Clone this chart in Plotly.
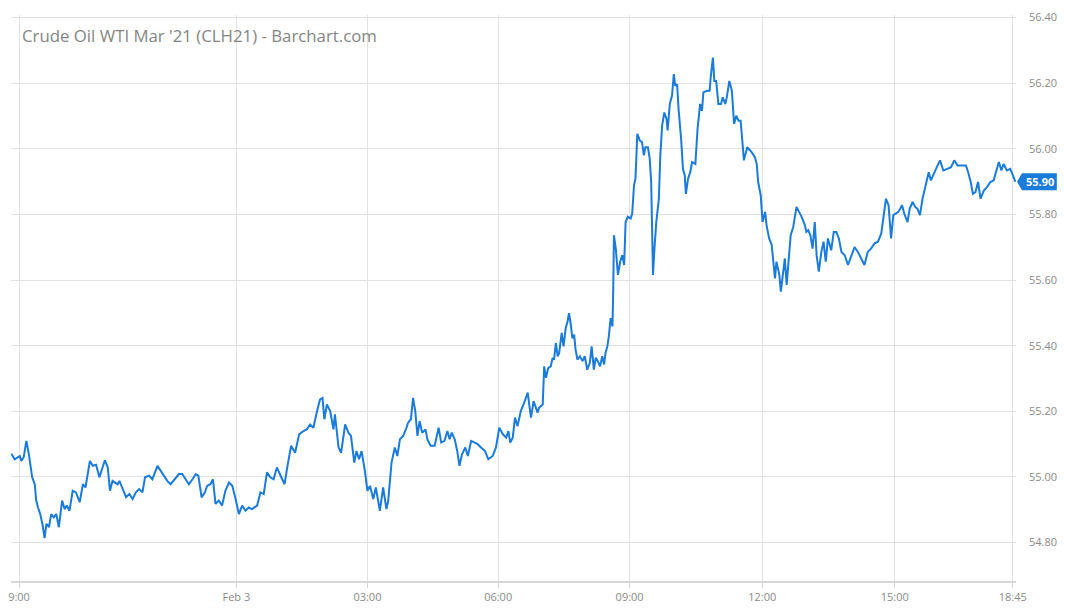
import plotly.graph_objects as go

# 5-minute bar index (session position) and last price
bar_index = [
    -2.1, -1.2, 0.2, 0.6, 1.3, 2.0, 2.7, 3.6, 4.3, 4.7, 5.2, 5.8, 6.4, 7.0, 7.5, 8.2, 8.8, 9.5,
    10.2, 10.9, 11.8, 12.5, 13.1, 13.8, 14.7, 15.6, 16.6, 17.5, 18.2, 18.8, 19.4, 20.2, 21.1,
    22.0, 22.7, 23.5, 24.3, 24.9, 25.6, 27.0, 27.5, 28.4, 29.3, 30.2, 31.1, 32.0, 32.9, 33.8,
    34.5, 35.6, 36.5, 37.9, 38.8, 39.7, 40.6, 41.5, 42.5, 43.8, 44.7, 45.6, 46.5, 47.5, 48.4,
    49.1, 50.0, 50.9, 51.5, 52.4, 53.1, 53.8, 54.7, 55.6, 56.5, 57.5, 58.4, 59.3, 60.2, 61.1,
    62.0, 62.9, 63.8, 65.2, 66.1, 67.0, 67.9, 68.8, 69.7, 70.6, 71.5, 72.7, 73.6, 74.5, 75.6,
    76.7, 77.9, 78.8, 79.7, 80.6, 81.5, 82.4, 83.1, 83.6, 84.3, 85.2, 86.1, 86.5, 87.5, 88.2,
    89.3, 90.2, 90.9, 91.8, 92.4, 93.1, 93.8, 94.7, 95.4, 96.1, 97.0, 97.7, 98.4, 98.8, 99.7,
    100.6, 101.1, 102.0, 102.9, 103.6, 104.3, 105.2, 106.1, 106.5, 107.3, 107.9, 108.5, 109.1,
    109.7, 110.4, 111.3, 111.8, 112.7, 113.8, 114.9, 115.6, 116.5, 117.3, 117.9, 118.5, 119.3,
    120.0, 120.6, 121.3, 122.2, 122.9, 123.8, 124.7, 125.6, 126.5, 127.6, 128.5, 129.7, 130.6,
    131.5, 132.5, 133.4, 134.0, 134.5, 135.2, 135.8, 136.5, 137.4, 138.3, 139.3, 139.7, 140.2,
    140.9, 141.5, 142.0, 142.4, 143.4, 143.8, 144.3, 144.9, 145.6, 146.1, 146.5, 147.0, 147.5,
    147.9, 148.6, 149.1, 149.7, 150.2, 150.6, 151.1, 151.5, 152.0, 152.4, 152.9, 153.6, 154.3,
    154.9, 155.6, 156.3, 156.8, 157.4, 157.9, 158.5, 159.1, 159.7, 160.2, 160.6, 161.1, 161.5,
    162.0, 162.5, 162.7, 162.9, 163.4, 164.0, 164.6, 165.2, 165.7, 166.1, 166.7, 167.5, 167.9,
    168.4, 168.8, 169.3, 170.0, 170.6, 171.1, 171.5, 172.2, 172.7, 173.1, 173.4, 173.6, 174.0,
    174.5, 175.2, 175.6, 176.1, 176.7, 177.3, 177.6, 178.2, 178.8, 179.3, 179.7, 180.2, 180.6,
    181.3, 181.8, 182.3, 182.6, 183.2, 183.8, 184.3, 185.2, 185.8, 186.5, 187.0, 187.4, 188.4,
    189.1, 189.4, 190.0, 190.4, 190.9, 191.5, 192.2, 192.7, 193.4, 193.8, 194.5, 195.2, 195.8,
    196.4, 197.0, 197.6, 198.5, 199.4, 200.6, 201.5, 202.0, 202.4, 203.1, 203.6, 204.3, 204.7,
    205.4, 206.1, 206.5, 207.0, 207.4, 208.2, 208.6, 209.1, 209.7, 210.2, 210.9, 211.3, 212.0,
    212.4, 212.9, 213.6, 214.3, 215.2, 215.6, 216.1, 216.7, 217.3, 217.9, 218.4, 219.0, 219.7,
    220.3, 220.9, 221.5, 222.4, 223.1, 223.8, 224.5, 225.2, 226.1, 227.0, 227.9, 228.8, 229.7,
    230.6, 231.5, 232.4, 233.3, 234.3, 235.2, 236.1, 236.7, 237.4, 238.1, 238.8, 239.4, 240.1,
    240.8, 241.8, 242.4, 243.3, 243.9, 244.7, 245.4, 246.0, 246.7, 247.4, 248.3, 249.1, 249.7,
    250.6, 251.5, 252.2, 253.1, 254.2, 255.2, 256.1, 257.0, 258.2, 259.3, 259.9, 260.6, 261.2,
    261.9, 262.6, 263.3, 264.2, 265.1, 266.0, 266.9, 267.5, 268.3, 269.0, 269.6, 270.5, 271.4,
    272.0, 272.8,
]

price = [
    55.071, 55.054, 55.064, 55.049, 55.061, 55.110, 55.069, 54.999, 54.978, 54.928, 54.907,
    54.887, 54.857, 54.814, 54.857, 54.847, 54.887, 54.877, 54.887, 54.847, 54.928, 54.902,
    54.913, 54.897, 54.958, 54.953, 54.923, 54.978, 54.968, 55.009, 55.049, 55.034, 55.037,
    54.999, 55.024, 55.051, 55.029, 54.958, 54.988, 54.978, 54.988, 54.963, 54.938, 54.948,
    54.933, 54.953, 54.963, 54.953, 54.999, 55.004, 54.993, 55.034, 55.019, 55.004, 54.988,
    54.978, 54.993, 55.009, 55.009, 54.993, 54.978, 54.993, 55.009, 55.004, 54.938, 54.953,
    54.973, 54.978, 54.993, 54.918, 54.928, 54.913, 54.958, 54.983, 54.973, 54.933, 54.887,
    54.913, 54.897, 54.907, 54.902, 54.913, 54.953, 54.948, 55.014, 54.999, 54.993, 55.029,
    55.009, 54.978, 55.039, 55.095, 55.074, 55.130, 55.140, 55.145, 55.160, 55.150, 55.196,
    55.236, 55.241, 55.176, 55.221, 55.201, 55.145, 55.191, 55.090, 55.074, 55.160, 55.135,
    55.125, 55.044, 55.079, 55.054, 55.079, 55.019, 54.958, 54.973, 54.933, 54.968, 54.923,
    54.897, 54.968, 54.902, 54.928, 55.044, 55.090, 55.064, 55.115, 55.125, 55.150, 55.165,
    55.176, 55.241, 55.201, 55.125, 55.170, 55.135, 55.145, 55.115, 55.095, 55.095, 55.150,
    55.105, 55.110, 55.140, 55.115, 55.135, 55.115, 55.079, 55.034, 55.069, 55.090, 55.064,
    55.110, 55.105, 55.100, 55.090, 55.079, 55.054, 55.064, 55.090, 55.150, 55.130, 55.120,
    55.140, 55.105, 55.120, 55.181, 55.155, 55.201, 55.226, 55.257, 55.221, 55.181, 55.231,
    55.211, 55.196, 55.211, 55.221, 55.337, 55.302, 55.332, 55.337, 55.363, 55.358, 55.408,
    55.368, 55.378, 55.439, 55.398, 55.454, 55.474, 55.499, 55.464, 55.423, 55.434, 55.388,
    55.358, 55.368, 55.353, 55.368, 55.327, 55.348, 55.398, 55.327, 55.363, 55.353, 55.337,
    55.368, 55.343, 55.378, 55.398, 55.428, 55.484, 55.459, 55.565, 55.737, 55.697, 55.616,
    55.656, 55.676, 55.646, 55.777, 55.793, 55.788, 55.803, 55.889, 55.909, 56.046, 56.025,
    56.020, 55.980, 56.005, 56.005, 55.970, 55.899, 55.636, 55.616, 55.697, 55.777, 55.848,
    55.980, 56.071, 56.111, 56.091, 56.056, 56.137, 56.162, 56.228, 56.192, 56.197, 56.121,
    56.030, 55.939, 55.919, 55.863, 55.909, 55.929, 55.960, 55.954, 56.061, 56.137, 56.116,
    56.172, 56.177, 56.177, 56.218, 56.278, 56.207, 56.207, 56.137, 56.137, 56.157, 56.137,
    56.157, 56.207, 56.177, 56.076, 56.101, 56.086, 56.086, 55.965, 56.005, 55.990, 55.975,
    55.954, 55.899, 55.858, 55.777, 55.808, 55.767, 55.727, 55.707, 55.656, 55.605, 55.656,
    55.616, 55.565, 55.605, 55.666, 55.585, 55.686, 55.737, 55.762, 55.788, 55.823, 55.808,
    55.793, 55.767, 55.747, 55.752, 55.737, 55.696, 55.777, 55.676, 55.626, 55.686, 55.717,
    55.656, 55.727, 55.691, 55.747, 55.747, 55.727, 55.686, 55.676, 55.646, 55.676, 55.701,
    55.686, 55.666, 55.646, 55.686, 55.696, 55.712, 55.717, 55.742, 55.788, 55.848, 55.828,
    55.727, 55.798, 55.803, 55.808, 55.828, 55.803, 55.777, 55.818, 55.838, 55.823, 55.818,
    55.798, 55.848, 55.894, 55.929, 55.904, 55.924, 55.949, 55.965, 55.934, 55.939, 55.944,
    55.965, 55.949, 55.949, 55.949, 55.929, 55.899, 55.863, 55.868, 55.899, 55.848, 55.873,
    55.884, 55.899, 55.904, 55.929, 55.960, 55.934, 55.954, 55.934, 55.939, 55.924, 55.900,
]

tick_positions = [0, 59.5, 95.4, 131.2, 167.2, 203.5, 239.8, 272.1]
tick_labels = ["9:00", "Feb 3", "03:00", "06:00", "09:00", "12:00", "15:00", "18:45"]
price_ticks = [54.80, 55.00, 55.20, 55.40, 55.60, 55.80, 56.00, 56.20, 56.40]
last_price_label = "55.90"

title_text = "Crude Oil WTI Mar '21 (CLH21) - Barchart.com"

LINE = "#1a7bdb"
GRID = "#e2e2e2"
TXT = "#8a8a8a"
FONT = "Open Sans"

x_range = [-2.2, 273.0]
y_range = [54.683, 56.408]

fig = go.Figure()
fig.add_trace(go.Scatter(
    x=bar_index, y=price, mode="lines",
    line=dict(color=LINE, width=2),
    hoverinfo="skip", showlegend=False,
))

fig.update_layout(
    width=1065, height=612,
    margin=dict(l=8, r=48, t=15, b=28),
    paper_bgcolor="white", plot_bgcolor="white",
    font=dict(family=FONT, color=TXT, size=11),
    showlegend=False,
)

fig.update_xaxes(
    range=x_range, tickmode="array", tickvals=tick_positions, ticktext=tick_labels,
    showgrid=True, gridcolor=GRID, gridwidth=1,
    showline=True, linecolor="#d6d6d6", linewidth=2,
    ticks="outside", ticklen=5, tickcolor="#d6d6d6",
    tickfont=dict(family=FONT, size=11, color=TXT),
    zeroline=False, fixedrange=True,
)
fig.update_yaxes(
    range=y_range, side="right", tickmode="array", tickvals=price_ticks,
    ticktext=[f"{v:.2f}" for v in price_ticks],
    showgrid=True, gridcolor=GRID, gridwidth=1,
    showline=False, ticks="", ticklabelstandoff=12,
    tickfont=dict(family=FONT, size=11, color=TXT),
    zeroline=False, fixedrange=True,
)

# title inside the plot area
fig.add_annotation(
    text=title_text, xref="paper", yref="paper", x=0.0088, y=0.963,
    xanchor="left", yanchor="middle", showarrow=False,
    font=dict(family=FONT, size=16.8, color="#858585"),
)

# last-price marker box with pointer
last = price[-1]
yp = (last - y_range[0]) / (y_range[1] - y_range[0])
hh = 8.5 / 569  # half height in paper units
px = 1 / 1009
x_tip = 1 + 1 * px
x_l = 1 + 6 * px
x_r = 1 + 41 * px
fig.add_shape(
    type="path", xref="paper", yref="paper",
    path=f"M {x_tip},{yp} L {x_l},{yp + hh} L {x_r},{yp + hh} L {x_r},{yp - hh} L {x_l},{yp - hh} Z",
    fillcolor=LINE, line=dict(width=0), layer="above",
)
fig.add_annotation(
    text=f"<b>{last_price_label}</b>", xref="paper", yref="paper",
    x=(x_l + x_r) / 2 + 0.5 * px, y=yp, xanchor="center", yanchor="middle", showarrow=False,
    font=dict(family=FONT, size=11, color="white"),
)

fig.write_html("out.html")
